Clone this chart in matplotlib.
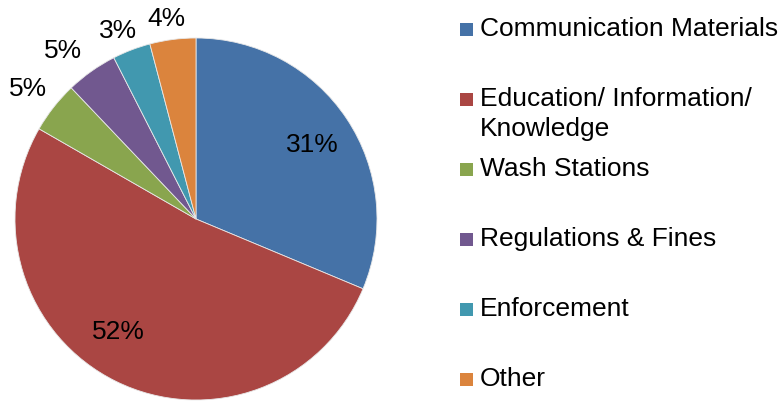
import matplotlib.pyplot as plt
from matplotlib.patches import Rectangle
import numpy as np

plt.rcParams['font.family'] = ['Liberation Sans', 'DejaVu Sans']

categories = ['Communication Materials', 'Education/ Information/\nKnowledge',
              'Wash Stations', 'Regulations & Fines', 'Enforcement', 'Other']
values = [31.3, 52.0, 4.6, 4.6, 3.4, 4.1]
colors = ['#4572A7', '#AA4643', '#89A54E', '#71588F', '#4198AF', '#DB843D']
# label placement per slice: distance from centre and angle nudge (deg)
label_r = [0.763, 0.759, 1.171, 1.184, 1.124, 1.117]
label_shift = [-1.3, -8.3, 0.4, 3.1, 1.6, 1.0]

W, H = 780, 401
fig = plt.figure(figsize=(W / 100, H / 100), dpi=100)

cx, cy, r = 196, 219, 181
ax = fig.add_axes([(cx - r) / W, (H - cy - r) / H, 2 * r / W, 2 * r / H])
wedges, _ = ax.pie(values, colors=colors, startangle=90, counterclock=False,
                   wedgeprops=dict(edgecolor='#e8e8e8', linewidth=0.6))
ax.set_xlim(-1, 1)
ax.set_ylim(-1, 1)
ax.set_aspect('equal')
ax.axis('off')

for w, v, d, s in zip(wedges, values, label_r, label_shift):
    ang = np.deg2rad((w.theta1 + w.theta2) / 2 + s)
    ax.text(d * np.cos(ang), d * np.sin(ang), '%d%%' % round(v),
            ha='center', va='center', fontsize=19, color='black', clip_on=False)

# legend drawn by hand: fixed row pitch, wrapped label runs downward
row0, pitch, line_h = 36, 70, 30
for i, (lab, c) in enumerate(zip(categories, colors)):
    base = row0 + i * pitch
    fig.patches.append(Rectangle((460 / W, (H - base) / H), 13 / W, 13 / H,
                                 transform=fig.transFigure, facecolor=c,
                                 edgecolor='none'))
    for j, line in enumerate(lab.split('\n')):
        fig.text(480 / W, (H - base - j * line_h) / H, line, fontsize=19,
                 ha='left', va='baseline', color='black')

fig.savefig('out.png', dpi=100)
